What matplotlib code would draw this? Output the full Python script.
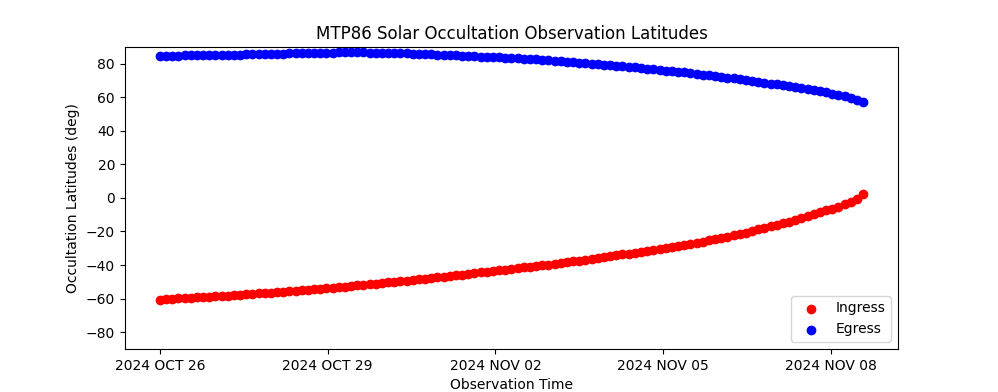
import numpy as np
import matplotlib
matplotlib.use("Agg")
import matplotlib.pyplot as plt

# observation cadence (days) and tick layout
step_days = 0.125
tick_days = [0.0, 3.4, 6.8, 10.2, 13.6]
tick_labels = ["2024 OCT 26", "2024 OCT 29", "2024 NOV 02", "2024 NOV 05", "2024 NOV 08"]

# ingress latitudes (deg), one per observation
ingress = [
    -60.6, -60.4, -60.2, -59.9, -59.7, -59.5, -59.3, -59.0, -58.8, -58.6,
    -58.4, -58.2, -57.9, -57.7, -57.5, -57.2, -56.9, -56.6, -56.4, -56.1,
    -55.8, -55.6, -55.3, -55.0, -54.7, -54.4, -54.1, -53.8, -53.5, -53.2,
    -53.0, -52.6, -52.2, -51.9, -51.5, -51.1, -50.8, -50.4, -50.1, -49.7,
    -49.3, -48.9, -48.5, -48.1, -47.7, -47.3, -46.9, -46.5, -46.1, -45.7,
    -45.2, -44.8, -44.4, -44.0, -43.6, -43.1, -42.7, -42.3, -41.8, -41.4,
    -41.0, -40.5, -40.1, -39.7, -39.2, -38.7, -38.2, -37.8, -37.3, -36.8,
    -36.3, -35.8, -35.3, -34.7, -34.2, -33.7, -33.2, -32.6, -32.1, -31.6,
    -31.0, -30.4, -29.8, -29.2, -28.6, -28.0, -27.4, -26.7, -26.0, -25.2,
    -24.5, -23.7, -23.0, -22.3, -21.5, -20.6, -19.7, -18.8, -17.8, -16.9,
    -16.0, -15.1, -14.1, -13.0, -11.8, -10.7, -9.6, -8.5, -7.4, -6.3,
    -5.1, -3.9, -2.5, -0.6, 2.4,
]

# egress latitudes (deg)
egress = [
    84.8, 84.8, 84.9, 84.9, 85.0, 85.0, 85.1, 85.1, 85.2, 85.3,
    85.3, 85.4, 85.5, 85.5, 85.6, 85.7, 85.8, 85.9, 86.0, 86.1,
    86.1, 86.2, 86.3, 86.4, 86.5, 86.5, 86.6, 86.7, 86.7, 86.8,
    86.8, 86.8, 86.8, 86.8, 86.7, 86.7, 86.6, 86.5, 86.4, 86.4,
    86.3, 86.1, 86.0, 85.8, 85.6, 85.5, 85.3, 85.2, 85.0, 84.8,
    84.6, 84.5, 84.3, 84.1, 83.9, 83.8, 83.6, 83.4, 83.2, 83.0,
    82.8, 82.6, 82.4, 82.2, 81.9, 81.6, 81.3, 81.0, 80.7, 80.4,
    80.1, 79.8, 79.5, 79.2, 78.8, 78.5, 78.2, 77.8, 77.5, 77.1,
    76.7, 76.4, 76.0, 75.6, 75.2, 74.9, 74.5, 74.0, 73.6, 73.1,
    72.7, 72.2, 71.8, 71.3, 70.9, 70.3, 69.8, 69.3, 68.8, 68.2,
    67.7, 67.2, 66.6, 66.0, 65.4, 64.8, 64.2, 63.5, 62.9, 62.2,
    61.4, 60.6, 59.7, 58.6, 57.2,
]

t_in = np.arange(len(ingress)) * step_days
t_eg = np.arange(len(egress)) * step_days

fig, ax = plt.subplots(figsize=(9.98, 3.92), dpi=100)

ax.scatter(t_in, ingress, color="red", label="Ingress")
ax.scatter(t_eg, egress, color="blue", label="Egress")

ax.set_xticks(tick_days)
ax.set_xticklabels(tick_labels)
ax.set_ylim(-90, 90)

ax.set_title("MTP86 Solar Occultation Observation Latitudes")
ax.set_xlabel("Observation Time")
ax.set_ylabel("Occultation Latitudes (deg)")
ax.legend(loc="lower right")

fig.savefig("out.png")
